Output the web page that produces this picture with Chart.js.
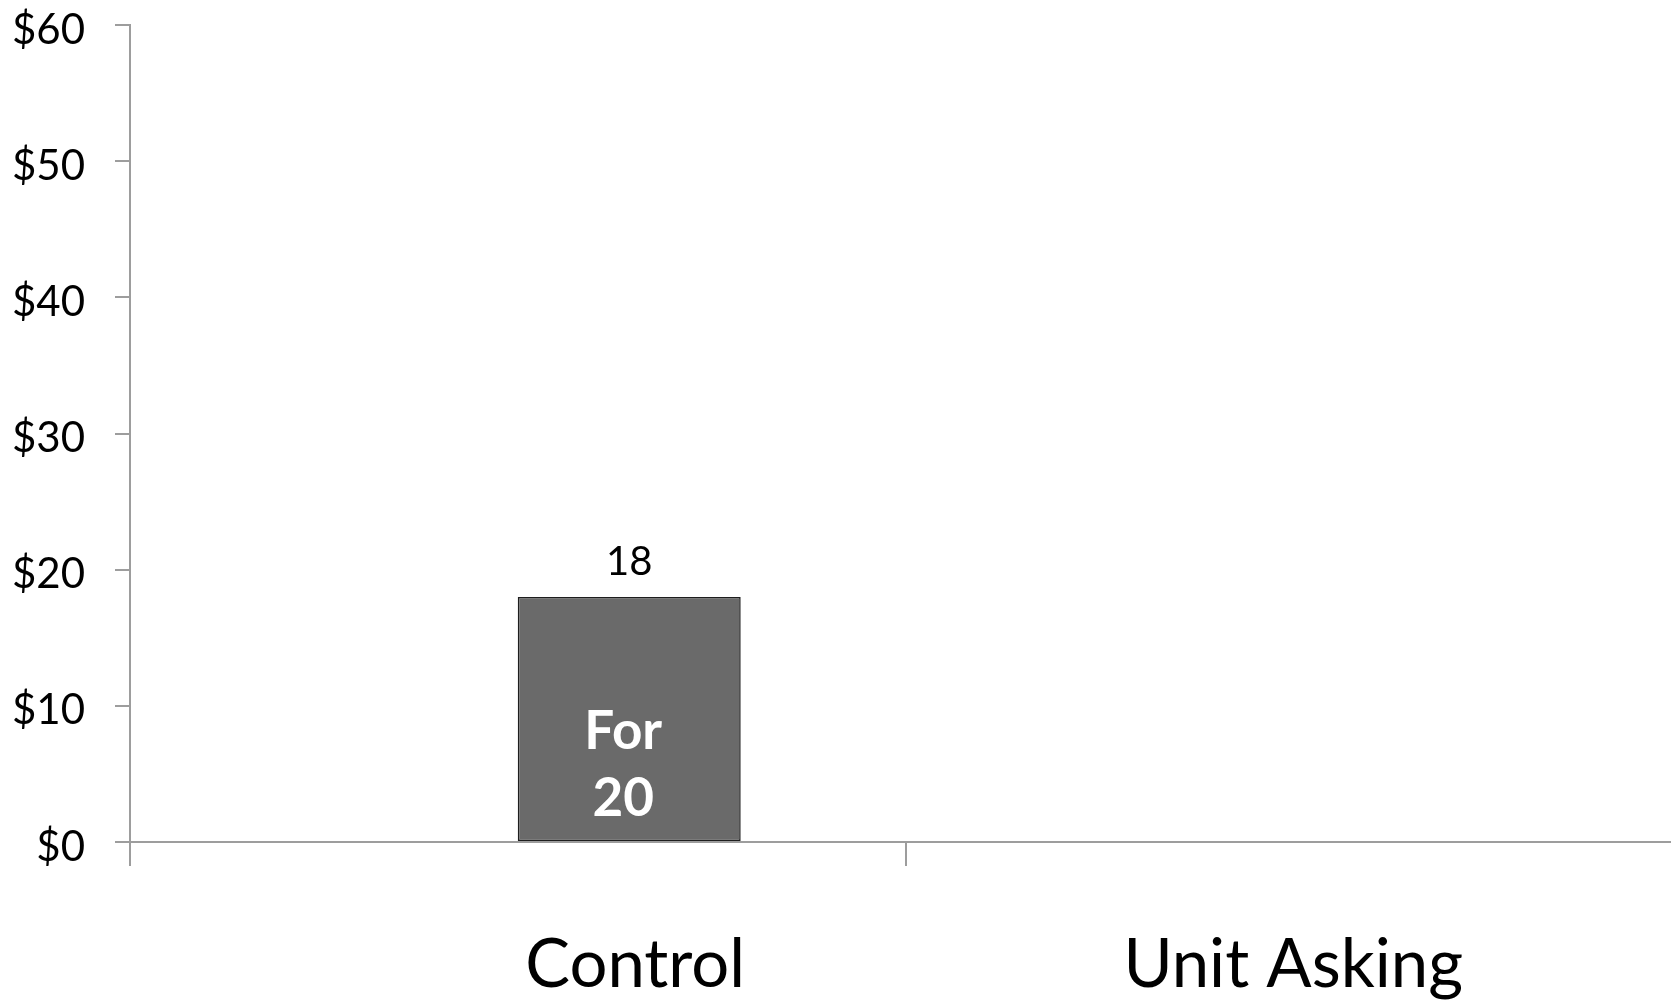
<!DOCTYPE html>
<html>
<head>
<meta charset="utf-8">
<script src="https://cdn.jsdelivr.net/npm/chart.js@4.4.1/dist/chart.umd.min.js"></script>
<style>
  html, body { margin: 0; padding: 0; background: #fff; overflow: hidden; }
  #wrap { width: 1681px; height: 1004px; }
</style>
</head>
<body>
<div id="wrap"><canvas id="donationChart" width="1681" height="1004"></canvas></div>
<script>
const categories = ["Control", "Unit Asking"];
const seriesNames = ["", "For 20"];
const firstSeries = [null, null];
const secondSeries = [18, null];
const yTicks = [0, 10, 20, 30, 40, 50, 60];

const FONT = "Lato, 'Open Sans', sans-serif";
const AXIS_GREY = "#9d9d9d";

const fmtDollar = (v) => "$" + v;

// ── Value label above bar + series name inside it ────────
const barTextPlugin = {
  id: "barText",
  afterDatasetsDraw(chart) {
    const { ctx: c } = chart;
    chart.data.datasets.forEach((ds, di) => {
      const meta = chart.getDatasetMeta(di);
      meta.data.forEach((bar, i) => {
        const v = ds.data[i];
        if (v === null || v === undefined) return;

        c.save();
        c.textAlign = "center";
        c.textBaseline = "alphabetic";
        c.fillStyle = "#000";
        c.font = `40px ${FONT}`;
        c.fillText(String(v), bar.x, bar.y - 22);

        // series name, split one word per line
        const words = ds.label.split(" ");
        c.fillStyle = "#fff";
        c.font = `bold 53px ${FONT}`;
        const lineGap = 67;
        words.forEach((w, k) => {
          const fromBottom = (words.length - 1 - k) * lineGap + 25;
          c.fillText(w, bar.x - 6, bar.base - fromBottom);
        });
        c.restore();
      });
    });
  },
};

// ── Category names under the axis ────────────────────────
// centred under the drawn bars, or under the category when it has none
const categoryLabelPlugin = {
  id: "categoryLabels",
  afterDraw(chart) {
    const { ctx: c } = chart;
    const xScale = chart.scales.x;
    c.save();
    c.textAlign = "center";
    c.textBaseline = "alphabetic";
    c.fillStyle = "#000";
    c.font = `67px ${FONT}`;
    categories.forEach((name, i) => {
      const xs = [];
      chart.data.datasets.forEach((ds, di) => {
        const v = ds.data[i];
        if (v !== null && v !== undefined) {
          xs.push(chart.getDatasetMeta(di).data[i].x);
        }
      });
      const x = xs.length
        ? xs.reduce((a, b) => a + b, 0) / xs.length + 6
        : xScale.getPixelForValue(i);
      c.fillText(name, x, 987);
    });
    c.restore();
  },
};

Chart.register(barTextPlugin, categoryLabelPlugin);

const canvas = document.getElementById("donationChart");

const chart = new Chart(canvas, {
  type: "bar",
  data: {
    labels: categories,
    datasets: [
      {
        label: seriesNames[0],
        data: firstSeries,
        backgroundColor: "#6a6a6a",
        borderColor: "#1e1e1e",
        borderWidth: 1.5,
      },
      {
        label: seriesNames[1],
        data: secondSeries,
        backgroundColor: "#6a6a6a",
        borderColor: "#1e1e1e",
        borderWidth: 1.5,
        borderSkipped: false,
      },
    ],
  },
  options: {
    responsive: false,
    animation: false,
    categoryPercentage: 0.575,
    barPercentage: 1,
    layout: { padding: { top: 25, left: 0, right: 0, bottom: 0 } },
    plugins: {
      legend: { display: false },
      tooltip: { enabled: false },
    },
    scales: {
      x: {
        offset: true,
        grid: {
          offset: true,
          drawOnChartArea: false,
          drawTicks: true,
          tickLength: 24,
          color: AXIS_GREY,
          lineWidth: 2,
        },
        border: { display: true, color: AXIS_GREY, width: 2 },
        ticks: { display: false },
        afterFit(scale) {
          scale.height = 162;
          scale.paddingLeft = 0;
          scale.paddingRight = 0;
        },
      },
      y: {
        min: 0,
        max: 60,
        afterBuildTicks(scale) {
          scale.ticks = yTicks.map((v) => ({ value: v }));
        },
        grid: {
          drawOnChartArea: false,
          drawTicks: true,
          tickLength: 15,
          color: AXIS_GREY,
          lineWidth: 2,
        },
        border: { display: true, color: AXIS_GREY, width: 2 },
        ticks: {
          padding: 30,
          labelOffset: 5,
          color: "#000",
          font: { family: FONT, size: 42, lineHeight: 1.15 },
          callback: fmtDollar,
        },
        afterFit(scale) {
          scale.width = 130;
          scale.paddingTop = 0;
          scale.paddingBottom = 0;
        },
      },
    },
  },
});
</script>
</body>
</html>
